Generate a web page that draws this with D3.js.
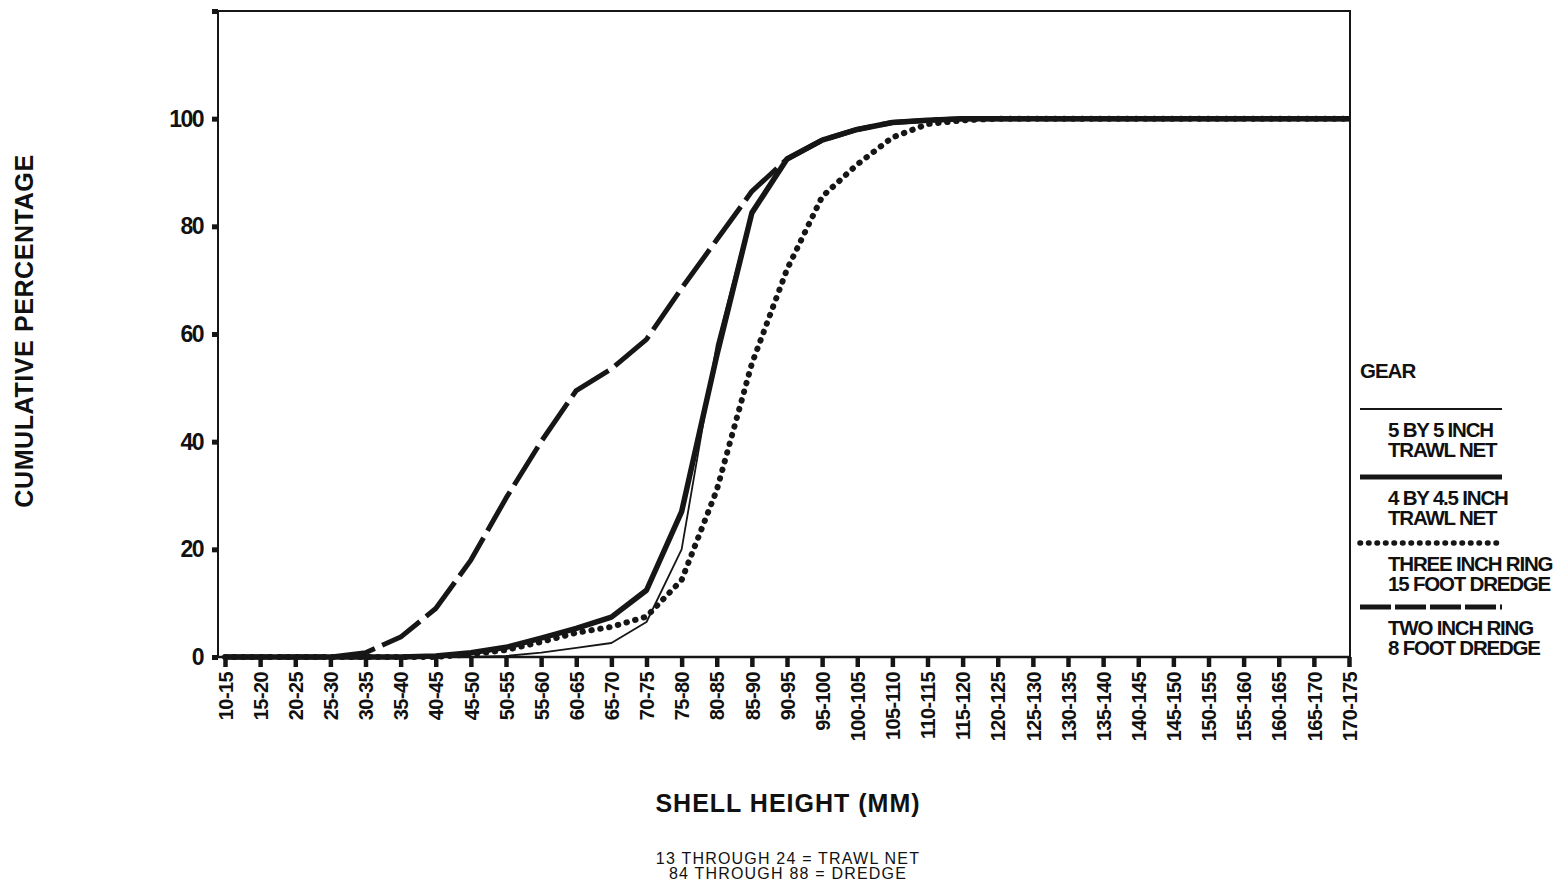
<!DOCTYPE html>
<html>
<head>
<meta charset="utf-8">
<title>Cumulative percentage by shell height</title>
<script src="https://cdn.jsdelivr.net/npm/d3@7"></script>
<style>
  body { margin: 0; background: #fff; }
  svg text { font-family: "Liberation Sans", Arial, sans-serif; fill: #111; }
</style>
</head>
<body>
<div id="chart"></div>
<script>
// shell height classes (mm)
var categories = ["10-15","15-20","20-25","25-30","30-35","35-40","40-45","45-50","50-55","55-60",
  "60-65","65-70","70-75","75-80","80-85","85-90","90-95","95-100","100-105","105-110",
  "110-115","115-120","120-125","125-130","130-135","135-140","140-145","145-150","150-155",
  "155-160","160-165","165-170","170-175"];

// cumulative percentage
var trawl5x5 = [0,0,0,0,0,0,0,0,0.2,0.8,1.7,2.6,6.5,20,58,83,92.5,96,98,99.3,99.7,100,100,100,100,100,100,100,100,100,100,100,100];
var trawl4x45 = [0,0,0,0,0,0,0.2,0.8,1.8,3.5,5.3,7.4,12.4,27,56,82.5,92.5,96,98,99.3,99.7,100,100,100,100,100,100,100,100,100,100,100,100];
var ring3in = [0,0,0,0,0,0,0,0.5,1.3,2.8,4.5,5.6,7.5,14.3,31,54.5,72,85.5,91.5,96.5,99,99.7,100,100,100,100,100,100,100,100,100,100,100];
var ring2in = [0,0,0,0,0.8,3.7,9,18,29.5,40,49.5,53.5,59,68.5,77.5,86.5,92.5,96,98,99.3,99.7,100,100,100,100,100,100,100,100,100,100,100,100];

var yTicks = [0,20,40,60,80,100,120];
var legendLabels = [["5 BY 5 INCH","TRAWL NET"],["4 BY 4.5 INCH","TRAWL NET"],["THREE INCH RING","15 FOOT DREDGE"],["TWO INCH RING","8 FOOT DREDGE"]];
var footnotes = ["13 THROUGH 24 = TRAWL NET","84 THROUGH 88 = DREDGE"];

var W = 1566, H = 895;
var plotLeft = 218, plotRight = 1350, plotTop = 11, plotBottom = 657;
var ink = "#161616";

var svg = d3.select("#chart").append("svg")
    .attr("width", W).attr("height", H)
    .style("background", "#fff");

var x = d3.scalePoint().domain(categories).range([225, 1349]);
var y = d3.scaleLinear().domain([0, 120]).range([plotBottom, plotTop]);

// line styles per series
var series = [
  {name: "ring3in", values: ring3in, width: 6, dash: "0.5 8.5", cap: "round"},
  {name: "ring2in", values: ring2in, width: 5, dash: "45 8", cap: "butt"},
  {name: "trawl4x45", values: trawl4x45, width: 5.5, dash: null, cap: "butt"},
  {name: "trawl5x5", values: trawl5x5, width: 1.8, dash: null, cap: "butt"}
];

// frame
svg.append("path")
  .attr("d", "M" + plotLeft + "," + plotBottom + "V" + plotTop + "H" + plotRight + "V" + plotBottom)
  .attr("fill", "none").attr("stroke", ink).attr("stroke-width", 2);

// x axis
var xAxis = svg.append("g")
  .attr("transform", "translate(0," + plotBottom + ")")
  .call(d3.axisBottom(x).tickSize(10).tickSizeOuter(0));
xAxis.select(".domain").remove();
xAxis.append("line").attr("x1", plotLeft).attr("x2", plotRight)
  .attr("stroke", ink).attr("stroke-width", 2.5);
xAxis.selectAll(".tick line").attr("stroke", ink).attr("stroke-width", 4.5);
xAxis.selectAll(".tick text")
  .attr("transform", "rotate(-90)")
  .attr("text-anchor", "end")
  .attr("x", -15).attr("y", 0).attr("dy", "0.36em")
  .attr("font-size", 20).attr("font-weight", "bold")
  .attr("letter-spacing", "-0.6px")
  .attr("fill", ink);

// y axis
var yAxis = svg.append("g")
  .attr("transform", "translate(" + plotLeft + ",0)")
  .call(d3.axisLeft(y).tickValues(yTicks).tickSize(6).tickPadding(9)
    .tickFormat(function (d) { return d == 120 ? "" : d; }));
yAxis.select(".domain").remove();
yAxis.selectAll(".tick line").attr("stroke", ink).attr("stroke-width", 5);
yAxis.selectAll(".tick text")
  .attr("font-size", 23).attr("font-weight", "bold")
  .attr("letter-spacing", "-1.5px").attr("fill", ink);

// curves
var line = d3.line()
  .x(function (d, i) { return x(categories[i]); })
  .y(function (d) { return y(d); });

svg.selectAll(".curve")
  .data(series)
  .enter().append("path")
  .attr("class", "curve")
  .attr("d", function (s) { return line(s.values); })
  .attr("fill", "none")
  .attr("stroke", ink)
  .attr("stroke-width", function (s) { return s.width; })
  .attr("stroke-dasharray", function (s) { return s.dash; })
  .attr("stroke-linecap", function (s) { return s.cap; })
  .attr("stroke-linejoin", "round");

// axis titles
svg.append("text")
  .attr("transform", "translate(33,331) rotate(-90)")
  .attr("text-anchor", "middle")
  .attr("font-size", 25).attr("font-weight", "bold")
  .attr("letter-spacing", "0.6px")
  .text("CUMULATIVE PERCENTAGE");

svg.append("text")
  .attr("x", 788).attr("y", 812)
  .attr("text-anchor", "middle")
  .attr("font-size", 25).attr("font-weight", "bold")
  .attr("letter-spacing", "1px")
  .text("SHELL HEIGHT (MM)");

svg.selectAll(".foot")
  .data(footnotes)
  .enter().append("text")
  .attr("class", "foot")
  .attr("x", 788)
  .attr("y", function (d, i) { return 864 + i * 15; })
  .attr("text-anchor", "middle")
  .attr("font-size", 16)
  .attr("letter-spacing", "1.2px")
  .text(function (d) { return d; });

// legend
var legend = svg.append("g");
legend.append("text")
  .attr("x", 1360).attr("y", 378)
  .attr("font-size", 20.5).attr("font-weight", "bold")
  .attr("letter-spacing", "-1px")
  .text("GEAR");

var legendLineY = [409, 477, 543, 607];
var legendStyle = [
  {width: 2, dash: null, cap: "butt"},
  {width: 5, dash: null, cap: "butt"},
  {width: 5.5, dash: "0.5 8", cap: "round"},
  {width: 5, dash: "31 4", cap: "butt"}
];

legendLabels.forEach(function (lab, i) {
  legend.append("line")
    .attr("x1", 1360).attr("x2", 1502)
    .attr("y1", legendLineY[i]).attr("y2", legendLineY[i])
    .attr("stroke", ink)
    .attr("stroke-width", legendStyle[i].width)
    .attr("stroke-dasharray", legendStyle[i].dash)
    .attr("stroke-linecap", legendStyle[i].cap);
  lab.forEach(function (t, j) {
    legend.append("text")
      .attr("x", 1388)
      .attr("y", legendLineY[i] + 28 + j * 20)
      .attr("font-size", 20.5).attr("font-weight", "bold")
      .attr("letter-spacing", "-1.2px")
      .text(t);
  });
});
</script>
</body>
</html>
